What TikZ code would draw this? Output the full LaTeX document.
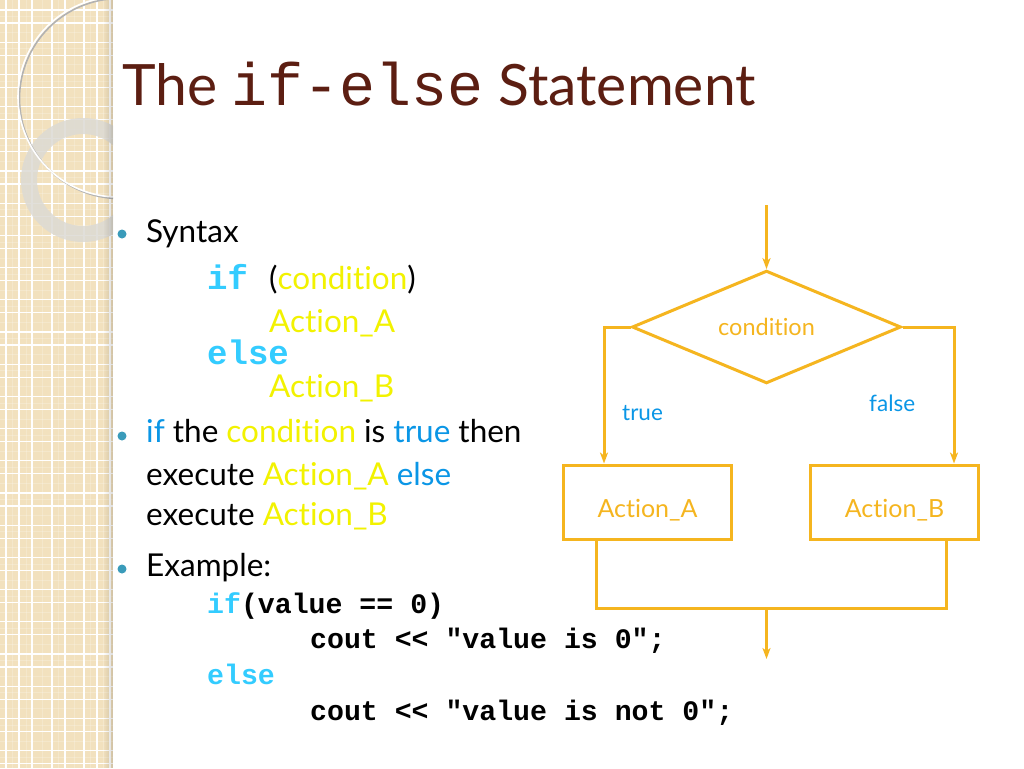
\documentclass[tikz,border=0pt]{standalone}
\usepackage{fontspec}
\setmainfont{Lato}[Ligatures={NoCommon}]
\newfontfamily\codefont{Liberation Mono}
\usetikzlibrary{arrows.meta,shapes.geometric,calc}
\definecolor{strip}{HTML}{F2E1BE}
\definecolor{ringgray}{HTML}{DCDAD4}
\definecolor{titlebrown}{HTML}{5C1E12}
\definecolor{bulletteal}{HTML}{3A9BBA}
\definecolor{codecyan}{HTML}{33CCFF}
\definecolor{txtyellow}{HTML}{F2F200}
\definecolor{txtblue}{HTML}{0A96E6}
\definecolor{flow}{HTML}{F5B51F}
\newcommand\fsz[1]{\fontsize{#1}{#1}\selectfont}
\begin{document}
\begin{tikzpicture}[x=1pt,y=-1pt,
  txt/.style={anchor=base west, inner sep=0pt, font=\fsz{31.5}},
  code/.style={anchor=base west, inner sep=0pt, font=\codefont\bfseries\fsz{28.2}},
  bigcode/.style={anchor=base west, inner sep=0pt, text=codecyan, font=\codefont\bfseries\fsz{34}},
  bul/.style={circle, fill=bulletteal, inner sep=0pt, minimum size=9pt},
  flowline/.style={draw=flow, line width=3pt},
  arr/.style={flowline, -{Stealth[length=11pt,width=8pt,inset=3pt]}},
  box/.style={flowline, rectangle, minimum width=168pt, minimum height=74pt, inner sep=0pt,
    text=flow, font=\fsz{25}, text height=30pt, text depth=0pt},
  dec/.style={flowline, diamond, minimum width=269pt, minimum height=108pt, inner sep=0pt,
    text=flow, font=\fsz{23.5}, text height=16pt, text depth=0pt},
  lab/.style={anchor=base west, inner sep=0pt, text=txtblue, font=\fsz{22.5}}]
\useasboundingbox (0,0) rectangle (1024,768);
\fill[white] (0,0) rectangle (1024,768);
% decorative strip
\fill[strip] (0,0) rectangle (113,768);
\foreach \x in {12.5,26,42,58.5,74.5,90.5,103.5}
  \draw[white, opacity=0.2, line width=0.6pt] (\x,0) -- (\x,768);
\foreach \k in {0,...,24} {
  \draw[white, opacity=0.2, line width=0.6pt] (0,{16.5+32.2*\k}) -- (113,{16.5+32.2*\k});
  \draw[white, opacity=0.2, line width=0.6pt] (0,{32.5+32.2*\k}) -- (113,{32.5+32.2*\k});
}
\foreach \x in {6,19,32,52,65,84,97,110}
  \draw[white, line width=1.3pt] (\x,0) -- (\x,768);
\foreach \k in {0,...,24} {
  \draw[white, line width=1.3pt] (0,{10+32.2*\k}) -- (113,{10+32.2*\k});
  \draw[white, line width=1.3pt] (0,{23+32.2*\k}) -- (113,{23+32.2*\k});
}
\begin{scope}
  \clip (0,0) rectangle (113,768);
  \fill[ringgray, opacity=0.85, even odd rule] (83,180) circle[radius=62] (83,180) circle[radius=46];
  \draw[black!30, line width=1.6pt] (119.5,98.5) circle[radius=100];
  \draw[white, line width=1.6pt] (118,97) circle[radius=100];
\end{scope}
\foreach \i in {0,...,9}
  \fill[black, opacity={0.014*\i}] ({103+\i},0) rectangle ({104+\i},768);
% title
\node[anchor=base west, inner sep=0pt, text=titlebrown, font=\fsz{57}] (title) at (122,105)
  {The {\codefont\fsz{60}if-else} Statement};
% bullets and text
\node[bul] (b1) at (122,234) {};
\node[bul] (b2) at (122,436) {};
\node[bul] (b3) at (122,569) {};
\node[txt] (syn) at (146,242) {Syntax};
\node[bigcode] (if1) at (207,289) {if};
\node[txt] (cond1) at (269,289) {(\textcolor{txtyellow}{condition})};
\node[txt, text=txtyellow] (actA) at (269,332) {Action\_A};
\node[bigcode] (else1) at (207,364) {else};
\node[txt, text=txtyellow] (actB) at (269,397) {Action\_B};
\node[txt] (l1) at (146,442) {\textcolor{txtblue}{if} the \textcolor{txtyellow}{condition} is \textcolor{txtblue}{true} then};
\node[txt] (l2) at (146,485) {execute \textcolor{txtyellow}{Action\_A} \textcolor{txtblue}{else}};
\node[txt] (l3) at (146,525) {execute \textcolor{txtyellow}{Action\_B}};
\node[txt] (ex) at (146,576) {Example:};
\node[code] (c1) at (207,613) {\textcolor{codecyan}{if}(value == 0)};
\node[code] (c2) at (310,648) {cout << "value is 0";};
\node[code, text=codecyan] (c3) at (207,684) {else};
\node[code] (c4) at (310,720) {cout << "value is not 0";};
% flowchart
\node[dec] (cond) at (766.5,327) {condition};
\node[box] (A) at (647.5,502) {Action\_A};
\node[box] (B) at (894.5,502) {Action\_B};
\coordinate (top) at (766.5,205);
\coordinate (join) at (766.5,608);
\coordinate (out) at (766.5,659);
\draw[arr] (top) -- (cond.north);
\draw[arr] (cond.west) -| ([xshift=-43.5pt]A.north);
\draw[arr] (cond.east) -| ([xshift=59.5pt]B.north);
\draw[flowline] ([xshift=-51.5pt]A.south) |- (join) -| ([xshift=51.5pt]B.south);
\draw[arr] (join) -- (out);
\node[lab] (t) at (622,420) {true};
\node[lab] (f) at (869,411) {false};
\end{tikzpicture}
\end{document}
